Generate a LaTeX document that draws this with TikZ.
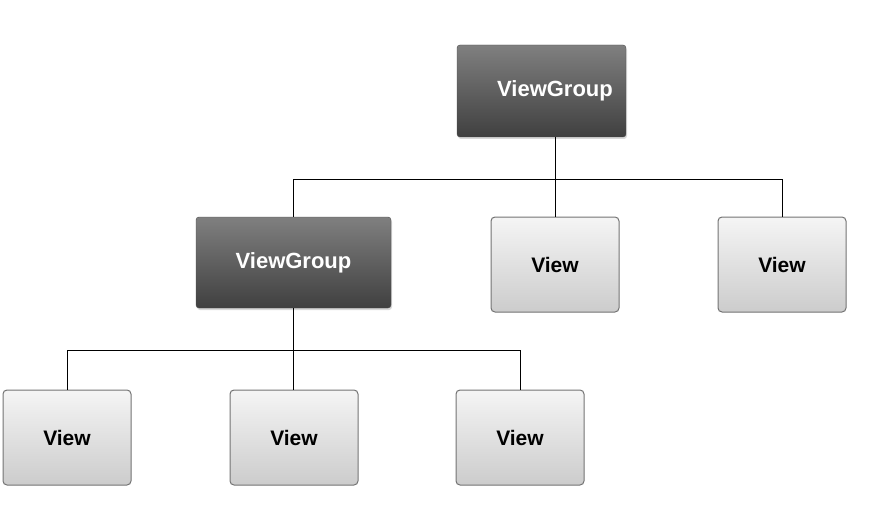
\documentclass[tikz,border=0pt]{standalone}
\usepackage{fontspec}
\setmainfont{Liberation Sans}
\usetikzlibrary{shadows}
\begin{document}
\begin{tikzpicture}[x=1pt,y=-1pt,
  grp/.style={rectangle, rounded corners=3pt, draw=gray!60!black, top color=black!50, bottom color=black!75, text=white,
     font=\fontsize{22}{26}\selectfont\bfseries, minimum width=169pt, minimum height=92pt, inner sep=0pt,
     drop shadow={opacity=0.3, shadow xshift=1pt, shadow yshift=-2pt}},
  leaf/.style={rectangle, rounded corners=4pt, draw=black!55, line width=1pt, top color=black!4, bottom color=black!20, text=black,
     font=\fontsize{21}{25}\selectfont\bfseries, minimum width=128pt, minimum height=95pt, inner sep=0pt},
  ln/.style={draw=black, line width=1pt}]
\useasboundingbox (0,0) rectangle (876,516);
\node[grp] (g1) at (541.5,91) {\hspace*{27pt}ViewGroup};
\node[grp, minimum width=195pt, minimum height=91pt] (g2) at (293.5,262.5) {ViewGroup};
\node[leaf] (v1) at (555,264.5) {View};
\node[leaf] (v2) at (782,264.5) {View};
\node[leaf] (v3) at (67,437.5) {View};
\node[leaf] (v4) at (294,437.5) {View};
\node[leaf] (v5) at (520,437.5) {View};
\coordinate (j1) at (555,180);
\coordinate (j2) at (293,350);
\draw[ln] (j1 |- g1.south) -- (j1);
\draw[ln] (g2.north -| 293,0) |- (j1 -| v2) -- (v2.north);
\draw[ln] (j1) -- (v1.north);
\draw[ln] (g2.south -| j2) -- (j2);
\draw[ln] (v3.north) |- (j2 -| v5) -- (v5.north);
\draw[ln] (j2) -- (v4.north -| j2);
\end{tikzpicture}
\end{document}
